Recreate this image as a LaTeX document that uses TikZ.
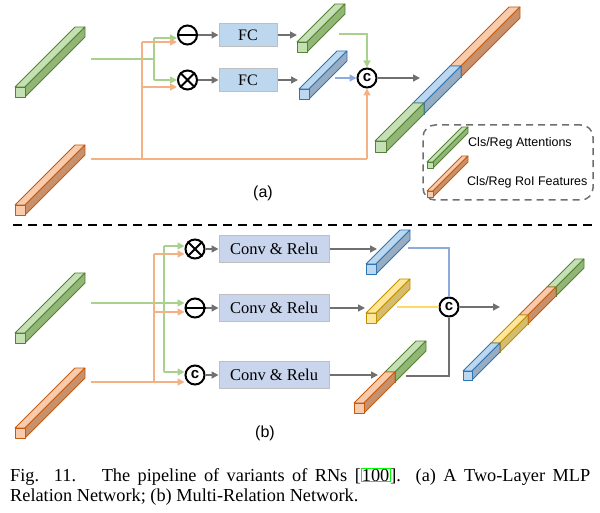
\documentclass[tikz,border=0pt]{standalone}
\usepackage{fontspec}
\setmainfont{Liberation Serif}
\setsansfont{Liberation Sans}
\usetikzlibrary{arrows.meta}
\definecolor{gL}{RGB}{197,224,180}
\definecolor{gS}{RGB}{145,182,118}
\definecolor{gD}{RGB}{84,130,53}
\definecolor{oL}{RGB}{248,203,173}
\definecolor{oS}{RGB}{200,145,108}
\definecolor{oD}{RGB}{197,90,17}
\definecolor{bL}{RGB}{189,215,238}
\definecolor{bS}{RGB}{152,172,194}
\definecolor{bD}{RGB}{46,117,182}
\definecolor{yL}{RGB}{255,230,153}
\definecolor{yS}{RGB}{212,188,112}
\definecolor{yD}{RGB}{191,144,0}
\definecolor{gA}{RGB}{169,209,142}
\definecolor{oA}{RGB}{244,177,131}
\definecolor{bA}{RGB}{143,170,220}
\definecolor{yA}{RGB}{255,217,102}
\definecolor{grA}{RGB}{112,112,112}
\definecolor{fcF}{RGB}{189,215,238}
\definecolor{cvF}{RGB}{200,213,236}
\definecolor{boxD}{RGB}{191,191,191}
\definecolor{legD}{RGB}{110,110,110}
\definecolor{linkG}{RGB}{0,255,0}
\newcommand\pseg[6]{%
  \begin{scope}[shift={({#1+#4},{#2-#4})}]
    \pgfmathsetmacro\pdd{#5-#4}
    \filldraw[fill=#6L, draw=#6D, line width=0.8pt, line join=round] (0,-#3) -- (#3,-#3) -- ({#3+\pdd},{-#3-\pdd}) -- (\pdd,{-#3-\pdd}) -- cycle;
    \filldraw[fill=#6S, draw=#6D, line width=0.8pt, line join=round] (#3,0) -- (#3,-#3) -- ({#3+\pdd},{-#3-\pdd}) -- ({#3+\pdd},-\pdd) -- cycle;
    \filldraw[fill=#6L, draw=#6D, line width=0.8pt, line join=round] (0,0) rectangle (#3,-#3);
  \end{scope}}
\newcommand\hlbox[1]{{\setlength\fboxsep{0.3pt}\setlength\fboxrule{0.7pt}\fcolorbox{linkG}{white}{#1}}}
\begin{document}
\begin{tikzpicture}[x=1pt,y=-1pt,
  tip/.style={-{Triangle[length=7pt,width=7pt]}},
  gline/.style={draw=gA, line width=1.4pt},
  oline/.style={draw=oA, line width=1.4pt},
  garr/.style={gline, tip},
  oarr/.style={oline, tip},
  barr/.style={draw=bA, line width=1.4pt, tip},
  grarr/.style={draw=grA, line width=1.5pt, tip},
  grline/.style={draw=grA, line width=1.5pt},
  opc/.style={circle, draw=black, line width=2pt, minimum size=19pt, inner sep=0pt},
  ctext/.style={font=\fontsize{15}{15}\sffamily\bfseries},
  fcbox/.style={draw=boxD, fill=fcF, line width=1pt, minimum width=58pt, minimum height=23pt, inner sep=0pt, font=\fontsize{16}{18}\selectfont},
  cvbox/.style={draw=boxD, fill=cvF, line width=1pt, minimum width=110pt, minimum height=27pt, inner sep=0pt, font=\fontsize{16.5}{18}\selectfont},
  lbl/.style={font=\fontsize{16}{18}\sffamily, inner sep=0pt},
  legtxt/.style={font=\fontsize{12.5}{14}\sffamily, inner sep=0pt, anchor=west},
  capt/.style={font=\fontsize{18.3}{21}\selectfont, inner sep=0pt, anchor=base west}
]
\useasboundingbox (0,0) rectangle (600,513);

% ---------------- part (a) ----------------
\pseg{15}{97}{10}{0}{60}{g}
\pseg{15}{215}{10}{0}{60}{o}

\node[opc] (cmA) at (187.5,35) {};
\draw[line width=2pt] (cmA.west) -- (cmA.east);
\node[opc] (cxA) at (187.5,80) {};
\draw[line width=2pt] (cxA.north west) -- (cxA.south east) (cxA.north east) -- (cxA.south west);
\node[fcbox] (fc1) at (248,35) {FC};
\node[fcbox] (fc2) at (248,80) {FC};
\node[opc, ctext] (ccA) at (367,78) {c};

\coordinate (gA0) at (91,59);
\coordinate (gAj) at (154,59);
\coordinate (gAt) at (154,38);
\coordinate (gAb) at (154,80);
\draw[gline] (gA0) -- (gAj);
\draw[gline] (gAt) -- (gAb);
\draw[garr] (gAt) -- (gAt -| cmA.west);
\draw[garr] (gAb) -- (gAb -| cxA.west);

\coordinate (oA0) at (91,159);
\coordinate (oAj) at (142,159);
\coordinate (oAt) at (142,42);
\coordinate (oAm) at (142,87);
\coordinate (oAc) at (367,159);
\draw[oline] (oA0) -- (oAc);
\draw[oarr] (oAc) -- (ccA.south);
\draw[oline] (oAj) -- (oAt);
\draw[oarr] (oAt) -- (oAt -| cmA.west);
\draw[oarr] (oAm) -- (oAm -| cxA.west);

\draw[grarr] (cmA.east) -- (fc1.west);
\draw[grarr] (cxA.east) -- (fc2.west);
\coordinate (g2in) at (297,35);
\coordinate (b2in) at (298,80);
\draw[grarr] (fc1.east) -- (g2in);
\draw[grarr] (fc2.east) -- (b2in);

\pseg{297}{52}{10}{0}{38}{g}
\pseg{299}{99}{10}{0}{38}{b}

\coordinate (g2out) at (339,34);
\coordinate (b2out) at (335,78);
\draw[garr] (g2out) -| (ccA.north);
\draw[barr] (b2out) -- (ccA.west);
\coordinate (catAin) at (420,78);
\draw[grarr] (ccA.east) -- (catAin);

\pseg{375}{152}{11}{75}{134}{o}
\pseg{375}{152}{11}{38}{75}{b}
\pseg{375}{152}{11}{0}{38}{g}

\node[draw=legD, line width=1.5pt, dash pattern=on 7pt off 5pt, rounded corners=12pt, minimum width=170pt, minimum height=75pt, inner sep=0pt] (legend) at (508,162.5) {};
\pseg{427}{168}{6}{0}{35}{g}
\pseg{427}{197}{6}{0}{35}{o}
\node[legtxt] (lt1) at (468,143) {Cls/Reg Attentions};
\node[legtxt] (lt2) at (467,182) {Cls/Reg RoI Features};

\node[lbl] (la) at (263,193) {(a)};

% divider
\coordinate (divL) at (13,225);
\coordinate (divR) at (592,225);
\draw[line width=2.4pt, dash pattern=on 8.5pt off 6.5pt] (divL) -- (divR);

% ---------------- part (b) ----------------
\pseg{15}{343}{10}{0}{60}{g}
\pseg{15}{438}{10}{0}{60}{o}

\node[opc] (cxB) at (195,249) {};
\draw[line width=2pt] (cxB.north west) -- (cxB.south east) (cxB.north east) -- (cxB.south west);
\node[opc] (cmB) at (195,308) {};
\draw[line width=2pt] (cmB.west) -- (cmB.east);
\node[opc, ctext] (ccB) at (195,375) {c};

\node[cvbox] (cv1) at (274,249) {Conv \& Relu};
\node[cvbox] (cv2) at (274,308) {Conv \& Relu};
\node[cvbox] (cv3) at (274,375) {Conv \& Relu};

\coordinate (gB0) at (91,303);
\coordinate (gBt) at (164,246);
\coordinate (gBb) at (164,372);
\draw[garr] (gB0) -- (gB0 -| cmB.west);
\draw[gline] (gBt) -- (gBb);
\draw[garr] (gBt) -- (gBt -| cxB.west);
\draw[garr] (gBb) -- (gBb -| ccB.west);

\coordinate (oB0) at (91,382);
\coordinate (oBj) at (154,382);
\coordinate (oBt) at (154,254);
\coordinate (oBm) at (154,312);
\draw[oarr] (oB0) -- (oB0 -| ccB.west);
\draw[oline] (oBj) -- (oBt);
\draw[oarr] (oBt) -- (oBt -| cxB.west);
\draw[oarr] (oBm) -- (oBm -| cmB.west);

\draw[grarr] (cxB.east) -- (cv1.west);
\draw[grarr] (cmB.east) -- (cv2.west);
\draw[grarr] (ccB.east) -- (cv3.west);

\coordinate (bBin) at (377,249);
\coordinate (yBin) at (365,308);
\coordinate (ogBin) at (378,375);
\draw[grarr] (cv1.east) -- (bBin);
\draw[grarr] (cv2.east) -- (yBin);
\draw[grarr] (cv3.east) -- (ogBin);

\pseg{366}{274}{10}{0}{34}{b}
\pseg{366}{323}{10}{0}{34}{y}
\pseg{354}{413}{10}{31}{62}{g}
\pseg{354}{413}{10}{0}{31}{o}

\node[opc, ctext] (ccC) at (449,307) {c};
\coordinate (bBout) at (408,248);
\coordinate (yBout) at (397,307);
\coordinate (ogBout) at (406,376);
\draw[draw=bA, line width=1.4pt] (bBout) -| (ccC.north);
\draw[draw=yA, line width=1.4pt] (yBout) -- (ccC.west);
\draw[grline] (ogBout) -| (ccC.south);
\coordinate (catBin) at (500,307);
\draw[grarr] (ccC.east) -- (catBin);

\pseg{463}{380}{9}{84}{112}{g}
\pseg{463}{380}{9}{56}{84}{o}
\pseg{463}{380}{9}{28}{56}{y}
\pseg{463}{380}{9}{0}{28}{b}

\node[lbl] (lb) at (265,433) {(b)};

% ---------------- caption ----------------
\node[capt] (cap1) at (10,481) {\makebox[580pt][s]{Fig. 11.\hspace{0.6em} The pipeline of variants of RNs [\hlbox{100}]. (a) A Two-Layer MLP}};
\node[capt] (cap2) at (10,501) {Relation Network; (b) Multi-Relation Network.};
\end{tikzpicture}
\end{document}
